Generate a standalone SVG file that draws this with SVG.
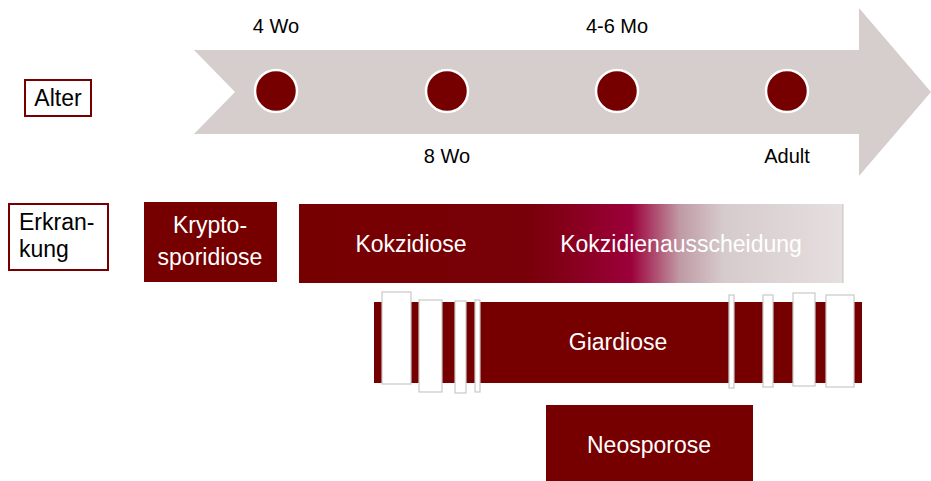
<svg xmlns="http://www.w3.org/2000/svg" width="931" height="481" viewBox="0 0 931 481">
<defs>
<linearGradient id="kg" x1="299" y1="0" x2="843" y2="0" gradientUnits="userSpaceOnUse">
<stop offset="0" stop-color="#760000"/>
<stop offset="0.42" stop-color="#780008"/>
<stop offset="0.61" stop-color="#9c003a"/>
<stop offset="0.70" stop-color="#c09aa4"/>
<stop offset="0.78" stop-color="#d6cbcc"/>
<stop offset="1" stop-color="#e6dfdf"/>
</linearGradient>
</defs>
<style>
text{font-family:"Liberation Sans",Arial,sans-serif}
.lbl{font-size:20px;fill:#000;text-anchor:middle}
.wt{font-size:23px;fill:#fff;text-anchor:middle}
.bk{font-size:23px;fill:#000}
.box{fill:#760000}
.dot{fill:#760000;stroke:#fff;stroke-width:2.5}
.gap{fill:#fff;stroke:#c8c8c8;stroke-width:1.2}
</style>
<g id="timeline">
<polygon points="194,50 859,50 859,8 931,92 859,176 859,134 194,134 235,92" fill="#d6cdcd"/>
<circle class="dot" cx="276" cy="91" r="21"/>
<circle class="dot" cx="447" cy="91" r="21"/>
<circle class="dot" cx="617" cy="91" r="21"/>
<circle class="dot" cx="787" cy="91" r="21"/>
<text class="lbl" x="276" y="33">4 Wo</text>
<text class="lbl" x="617" y="33">4-6 Mo</text>
<text class="lbl" x="447" y="163">8 Wo</text>
<text class="lbl" x="787" y="163">Adult</text>
</g>
<g id="alter">
<rect x="25" y="80" width="66" height="36" fill="#fff" stroke="#760000" stroke-width="2"/>
<text class="bk" x="58" y="106" text-anchor="middle">Alter</text>
</g>
<g id="erkrankung">
<rect x="9" y="204" width="99" height="66" fill="#fff" stroke="#760000" stroke-width="2"/>
<text class="bk" x="19" y="230">Erkran-</text>
<text class="bk" x="19" y="257">kung</text>
</g>
<g id="kryptosporidiose">
<rect class="box" x="144" y="202" width="133" height="80"/>
<text class="wt" x="210" y="233">Krypto-</text>
<text class="wt" x="210" y="265">sporidiose</text>
</g>
<g id="kokzidiose">
<rect x="299" y="204" width="544" height="79" fill="url(#kg)"/>
<line x1="843" y1="204" x2="843" y2="283" stroke="#c8c0c0" stroke-width="1"/>
<text class="wt" x="411" y="252">Kokzidiose</text>
<text class="wt" x="681" y="252">Kokzidienausscheidung</text>
</g>
<g id="giardiose">
<rect class="box" x="374" y="302" width="488" height="81"/>
<rect class="gap" x="382" y="292" width="29" height="92"/>
<rect class="gap" x="419" y="300" width="23" height="92"/>
<rect class="gap" x="455" y="301" width="11" height="92"/>
<rect class="gap" x="475" y="300" width="5" height="92"/>
<rect class="gap" x="729" y="295" width="5" height="93"/>
<rect class="gap" x="763" y="295" width="10" height="92"/>
<rect class="gap" x="793" y="293" width="22" height="93"/>
<rect class="gap" x="826" y="295" width="28" height="92"/>
<text class="wt" x="618" y="350">Giardiose</text>
</g>
<g id="neosporose">
<rect class="box" x="546" y="405" width="207" height="76"/>
<text class="wt" x="649" y="453">Neosporose</text>
</g>
<g id="connectors"/>
</svg>
